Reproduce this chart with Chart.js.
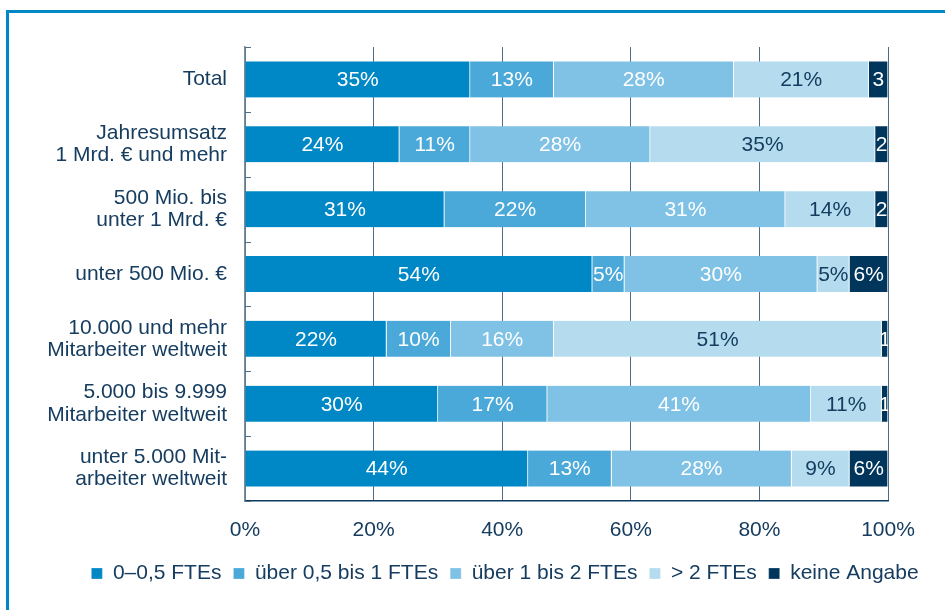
<!DOCTYPE html>
<html>
<head>
<meta charset="utf-8">
<script src="https://cdn.jsdelivr.net/npm/chart.js@4.4.0/dist/chart.umd.min.js"></script>
<style>
  html, body { margin: 0; padding: 0; background: #ffffff; }
  #frame { position: absolute; left: 6px; top: 10px; width: 1000px; height: 700px; border: 3px solid #0088C6; box-sizing: border-box; }
  #wrap { position: absolute; left: 0; top: 0; width: 945px; height: 610px; }
</style>
</head>
<body>
<div id="frame"></div>
<div id="wrap"><canvas id="c" width="945" height="610"></canvas></div>
<script>
const categories = [
  "Total",
  ["Jahresumsatz", "1 Mrd. € und mehr"],
  ["500 Mio. bis", "unter 1 Mrd. €"],
  "unter 500 Mio. €",
  ["10.000 und mehr", "Mitarbeiter weltweit"],
  ["5.000 bis 9.999", "Mitarbeiter weltweit"],
  ["unter 5.000 Mit-", "arbeiter weltweit"]
];
const seriesNames = ["0–0,5 FTEs", "über 0,5 bis 1 FTEs", "über 1 bis 2 FTEs", "> 2 FTEs", "keine Angabe"];
const s0 = [35, 24, 31, 54, 22, 30, 44];
const s1 = [13, 11, 22, 5, 10, 17, 13];
const s2 = [28, 28, 31, 30, 16, 41, 28];
const s3 = [21, 35, 14, 5, 51, 11, 9];
const s4 = [3, 2, 2, 6, 1, 1, 6];
const xTicks = [0, 20, 40, 60, 80, 100];

const colors = ["#0088C6", "#4AA9D8", "#80C2E5", "#B4DCEE", "#00365C"];
const labelColors = ["#ffffff", "#ffffff", "#ffffff", "#163D60", "#ffffff"];
const textColor = "#163D60";
const FONT = "'Liberation Sans', Arial, sans-serif";
const FS = 21;
const LEGEND_SHIFT = 61;

const seriesValues = [s0, s1, s2, s3, s4];
const datasets = seriesValues.map((vals, i) => ({
  label: seriesNames[i],
  data: vals,
  backgroundColor: colors[i],
  borderColor: "#ffffff",
  borderWidth: { left: 0, right: 1, top: 0, bottom: 0 },
  borderSkipped: false,
  barThickness: 36
}));

const labelPlugin = {
  id: "segLabels",
  afterDatasetsDraw(chart) {
    const ctx = chart.ctx;
    ctx.save();
    ctx.font = FS + "px " + FONT;
    ctx.textBaseline = "middle";
    ctx.textAlign = "center";
    chart.data.datasets.forEach((ds, di) => {
      const meta = chart.getDatasetMeta(di);
      meta.data.forEach((el, i) => {
        const p = el.getProps(["x", "y", "base", "height"], true);
        const left = Math.min(p.x, p.base), right = Math.max(p.x, p.base);
        const w = right - left;
        const full = ds.data[i] + "%";
        let txt = full;
        while (txt.length > 1 && ctx.measureText(txt).width + 1 > w) {
          txt = txt.slice(0, -1);
        }
        ctx.fillStyle = labelColors[di];
        ctx.save();
        ctx.beginPath();
        ctx.rect(left, p.y - p.height / 2, w, p.height);
        ctx.clip();
        ctx.fillText(txt, (left + right) / 2, p.y + 1);
        ctx.restore();
      });
    });
    ctx.restore();
  }
};

const yTickPlugin = {
  id: "yInnerTicks",
  afterDatasetsDraw(chart) {
    const y = chart.scales.y;
    const x = chart.scales.x;
    const ctx = chart.ctx;
    ctx.save();
    ctx.strokeStyle = "#4F6E86";
    ctx.lineWidth = 1;
    const n = categories.length;
    for (let i = 0; i <= n; i++) {
      const yy = Math.round(y.getPixelForValue(i - 0.5)) + 0.5;
      ctx.beginPath();
      ctx.moveTo(x.left, yy);
      ctx.lineTo(x.left + 6, yy);
      ctx.stroke();
    }
    ctx.restore();
  }
};

const legendShiftPlugin = {
  id: "legendShift",
  afterLayout(chart) {
    if (chart.legend) {
      chart.legend.left += LEGEND_SHIFT;
      chart.legend.right += LEGEND_SHIFT;
    }
  }
};

new Chart(document.getElementById("c"), {
  type: "bar",
  data: { labels: categories, datasets: datasets },
  options: {
    indexAxis: "y",
    responsive: false,
    animation: false,
    layout: { padding: { top: 47, left: 0, right: 57, bottom: 16 } },
    scales: {
      x: {
        stacked: true,
        min: 0,
        max: 100,
        afterBuildTicks(scale) { scale.ticks = xTicks.map(v => ({ value: v })); },
        afterFit(scale) { scale.height = 50; },
        grid: { color: "#4F6E86", lineWidth: 1, drawTicks: false, z: -1 },
        border: { display: true, color: "#0D3A5C", width: 1.5 },
        ticks: {
          padding: 17,
          color: textColor,
          font: { family: FONT, size: FS },
          callback: (v) => v + "%"
        }
      },
      y: {
        stacked: true,
        afterFit(scale) { scale.width = 245; },
        grid: { display: false, drawTicks: false },
        border: { display: true, color: "#7D8E9E", width: 1.5 },
        ticks: {
          padding: 18,
          color: textColor,
          font: { family: FONT, size: FS, lineHeight: 1.05 }
        }
      }
    },
    plugins: {
      legend: {
        position: "bottom",
        labels: {
          color: textColor,
          font: { family: FONT, size: FS },
          boxWidth: 11,
          boxHeight: 11,
          padding: 12
        }
      },
      tooltip: { enabled: false }
    }
  },
  plugins: [labelPlugin, yTickPlugin, legendShiftPlugin]
});
</script>
</body>
</html>
